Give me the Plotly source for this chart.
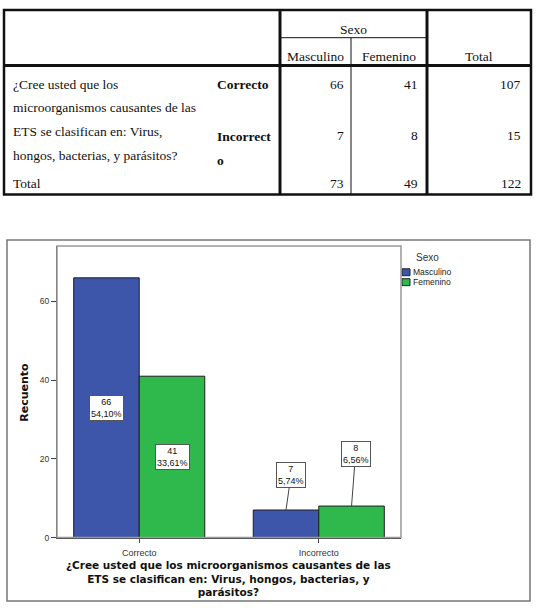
import plotly.graph_objects as go

# ---------------- data ----------------
categories = ["Correcto", "Incorrecto"]
series_names = ["Masculino", "Femenino"]
masculino = [66, 7]
femenino = [41, 8]
row_totals = [107, 15]
col_totals = [73, 49]
grand_total = 122
y_ticks = [0, 20, 40, 60]
row_question_lines = ["¿Cree usted que los", "microorganismos causantes de las",
                      "ETS se clasifican en: Virus,", "hongos, bacterias, y parásitos?"]
x_title_lines = ["¿Cree usted que los microorganismos causantes de las",
                 "ETS se clasifican en: Virus, hongos, bacterias, y",
                 "parásitos?"]

colors = ["#3E56AA", "#2FB84C"]

W, H = 538, 608
def px(x):
    return x / W
def py(y):
    return 1 - y / H

SERIF = "Liberation Serif"
SANS = "Liberation Sans"
WIDE = "DejaVu Sans"

fig = go.Figure()
values = [masculino, femenino]
bargap = 0.27
bw = (1 - bargap) / 2
for s, name in enumerate(series_names):
    fig.add_trace(go.Bar(
        x=categories, y=values[s], name=name,
        marker=dict(color=colors[s], line=dict(color="#1e1e1e", width=1)),
        showlegend=False, hoverinfo="x+y+name",
    ))

annotations = []
shapes = []

# ---------------- data labels ----------------
def fmt_pct(v):
    return f"{v / grand_total * 100:.2f}".replace(".", ",") + "%"

arrow_offsets = {(1, 0): (5, -35), (1, 1): (4, -52)}
for s in range(2):
    for i in range(2):
        v = values[s][i]
        xc = i + (s - 0.5) * bw
        txt = f"{v}<br>{fmt_pct(v)}"
        common = dict(text=txt, xref="x", yref="y", bgcolor="white",
                      bordercolor="#555", borderwidth=1, borderpad=1,
                      font=dict(family=SANS, size=9, color="#111"))
        if (i, s) in arrow_offsets:
            ax, ay = arrow_offsets[(i, s)]
            annotations.append(dict(x=xc, y=v, showarrow=True, arrowhead=0,
                                    arrowwidth=1, arrowcolor="#444",
                                    ax=ax, ay=ay, **common))
        else:
            annotations.append(dict(x=xc, y=v / 2, showarrow=False, **common))

# ---------------- axis titles ----------------
annotations.append(dict(text="<b>" + "<br>".join(x_title_lines) + "</b>",
                        xref="paper", yref="paper", x=px(228), y=py(583),
                        showarrow=False, align="center",
                        font=dict(family=WIDE, size=10.5, color="#111"),
                        xanchor="center", yanchor="middle"))
annotations.append(dict(text="<b>Recuento</b>", xref="paper", yref="paper",
                        x=px(25), y=py(396), showarrow=False, textangle=-90,
                        font=dict(family=WIDE, size=11, color="#111"),
                        xanchor="center", yanchor="middle"))

# ---------------- legend (manual) ----------------
annotations.append(dict(text="Sexo", xref="paper", yref="paper", x=px(414), y=py(260),
                        showarrow=False, xanchor="left", yanchor="middle",
                        font=dict(family=SANS, size=10, color="#333")))
for s, name in enumerate(series_names):
    y0 = 271 + s * 10
    shapes.append(dict(type="rect", xref="paper", yref="paper",
                       x0=px(402), x1=px(410), y0=py(y0), y1=py(y0 + 7),
                       fillcolor=colors[s], line=dict(color="#222", width=1)))
    annotations.append(dict(text=name, xref="paper", yref="paper", x=px(411), y=py(y0 + 3.5),
                            showarrow=False, xanchor="left", yanchor="middle",
                            font=dict(family=SANS, size=8.5, color="#222")))

# ---------------- chart frame ----------------
shapes.append(dict(type="rect", xref="paper", yref="paper", layer="below",
                   x0=px(7), x1=px(530), y0=py(606), y1=py(242),
                   line=dict(color="#777", width=1.5), fillcolor="white"))
shapes.append(dict(type="rect", xref="paper", yref="paper", layer="above",
                   x0=px(57), x1=px(401), y0=py(542), y1=py(248),
                   line=dict(color="#999", width=1.5)))

# ---------------- table ----------------
T_L, T_R, T_T, T_B = 4, 531, 10, 196
V1, V2, V3 = 280, 351, 427
H1, H2 = 38, 66
shapes.append(dict(type="rect", xref="paper", yref="paper",
                   x0=px(T_L), x1=px(T_R), y0=py(T_B), y1=py(T_T),
                   line=dict(color="#111", width=2.5)))
for x, y0, y1, w in [(V1, T_T, T_B, 3), (V3, T_T, T_B, 3), (V2, H1, T_B, 1)]:
    shapes.append(dict(type="line", xref="paper", yref="paper",
                       x0=px(x), x1=px(x), y0=py(y0), y1=py(y1),
                       line=dict(color="#111", width=w)))
for y, x0, x1, w in [(H2, T_L, T_R, 3), (H1, V1, V3, 1)]:
    shapes.append(dict(type="line", xref="paper", yref="paper",
                       x0=px(x0), x1=px(x1), y0=py(y), y1=py(y),
                       line=dict(color="#111", width=w)))

def tcell(text, x, y, anchor="center", bold=False):
    annotations.append(dict(text=("<b>" + text + "</b>") if bold else text,
                            xref="paper", yref="paper", x=px(x), y=py(y),
                            showarrow=False, xanchor=anchor, yanchor="middle",
                            font=dict(family=SERIF, size=13.5, color="#111")))

tcell("Sexo", (V1 + V3) / 2, 30)
tcell(series_names[0], (V1 + V2) / 2, 57)
tcell(series_names[1], (V2 + V3) / 2, 57)
tcell("Total", (V3 + T_R) / 2, 57)

for k, line in enumerate(row_question_lines):
    tcell(line, 11, 85 + k * 23.8, "left")
tcell("Correcto", 215, 85, "left", bold=True)
tcell("Incorrect", 215, 138, "left", bold=True)
tcell("o", 215, 162, "left", bold=True)
tcell("Total", 11, 185, "left")

row_ys = [85, 137]
for i in range(2):
    tcell(str(masculino[i]), V2 - 5, row_ys[i], "right")
    tcell(str(femenino[i]), V3 - 7, row_ys[i], "right")
    tcell(str(row_totals[i]), T_R - 8, row_ys[i], "right")
tcell(str(col_totals[0]), V2 - 5, 185, "right")
tcell(str(col_totals[1]), V3 - 7, 185, "right")
tcell(str(grand_total), T_R - 8, 185, "right")

# ---------------- layout ----------------
fig.update_layout(
    width=W, height=H, margin=dict(l=0, r=0, t=0, b=0),
    paper_bgcolor="white", plot_bgcolor="#F0F0F0",
    barmode="group", bargap=bargap, bargroupgap=0,
    showlegend=False,
    annotations=annotations, shapes=shapes,
    xaxis=dict(domain=[px(57), px(401)], range=[-0.458, 1.458], type="category",
               showgrid=False, zeroline=False, showline=True, linecolor="#444", linewidth=1,
               ticks="outside", ticklen=4, tickcolor="#444",
               tickfont=dict(family=SANS, size=9, color="#333"), ticklabelstandoff=3),
    yaxis=dict(domain=[py(542), py(248)], range=[0, 74.1],
               tickvals=y_ticks, showgrid=False, zeroline=False,
               showline=True, linecolor="#444", linewidth=1,
               ticks="outside", ticklen=5, tickcolor="#444",
               tickfont=dict(family=SANS, size=8.5, color="#333")),
)

fig.write_html("out.html")
